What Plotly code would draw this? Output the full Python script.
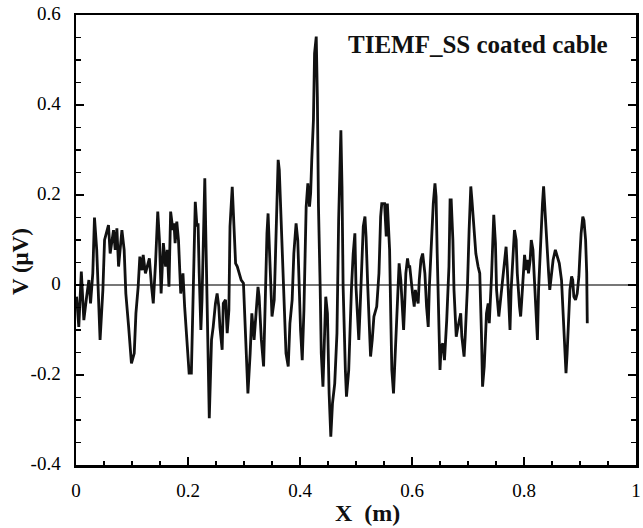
import plotly.graph_objects as go

# Signal trace (X in m, V in microvolts)
x_a = [0.001, 0.005, 0.0095, 0.014, 0.019, 0.023, 0.026, 0.030, 0.033, 0.037,
       0.043, 0.048, 0.051, 0.055, 0.058, 0.061, 0.067, 0.070, 0.073, 0.076,
       0.080, 0.082, 0.086, 0.089, 0.094, 0.099, 0.104, 0.107, 0.111, 0.114,
       0.118, 0.120, 0.124, 0.127, 0.131, 0.135, 0.138, 0.142, 0.146, 0.149,
       0.152, 0.156, 0.160, 0.163, 0.166, 0.169, 0.173, 0.175, 0.177]
v_a = [-0.026, -0.093, 0.030, -0.078, -0.026, 0.011, -0.041, 0.026, 0.150, 0.078,
       -0.122, -0.011, 0.100, 0.122, 0.133, 0.070, 0.122, 0.078, 0.126, 0.041,
       0.100, 0.122, 0.078, -0.019, -0.093, -0.174, -0.152, -0.063, -0.004, 0.063,
       0.033, 0.067, 0.026, 0.041, 0.059, -0.004, -0.041, 0.048, 0.163, 0.100,
       -0.019, 0.093, 0.041, 0.078, -0.004, 0.163, 0.122, 0.137, 0.093]

x_b = [0.180, 0.183, 0.187, 0.191, 0.194, 0.199, 0.202, 0.206, 0.210, 0.213,
       0.216, 0.218, 0.220, 0.223, 0.225, 0.227, 0.230, 0.232, 0.236, 0.238,
       0.242, 0.245, 0.249, 0.252, 0.255, 0.257, 0.261, 0.263, 0.267, 0.270,
       0.273, 0.275, 0.279, 0.282, 0.285, 0.288, 0.292, 0.295, 0.299, 0.302,
       0.305, 0.307, 0.311, 0.314, 0.318, 0.321, 0.325, 0.327, 0.331, 0.335,
       0.338, 0.341, 0.343, 0.345, 0.348, 0.350, 0.354, 0.357, 0.361, 0.363]
v_b = [0.141, 0.100, -0.019, 0.026, -0.048, -0.137, -0.196, -0.196, 0.011, 0.185,
       0.130, 0.137, 0.026, -0.100, -0.033, 0.078, 0.237, 0.100, -0.122, -0.296,
       -0.122, -0.093, -0.041, -0.019, -0.048, -0.093, -0.144, -0.041, -0.033, -0.107,
       -0.056, 0.130, 0.218, 0.130, 0.048, 0.041, 0.026, 0.011, 0.004, -0.093,
       -0.181, -0.241, -0.152, -0.063, -0.122, -0.063, -0.004, -0.026, -0.122, -0.181,
       -0.026, 0.115, 0.159, 0.100, -0.004, -0.070, -0.033, 0.100, 0.278, 0.256]

x_c = [0.368, 0.371, 0.375, 0.379, 0.382, 0.386, 0.389, 0.393, 0.396, 0.399,
       0.401, 0.404, 0.407, 0.411, 0.414, 0.417, 0.419, 0.421, 0.424, 0.426,
       0.429, 0.431, 0.433, 0.436, 0.438, 0.441, 0.443, 0.446, 0.449, 0.452,
       0.455, 0.458, 0.462, 0.466, 0.469, 0.473, 0.475, 0.477, 0.481, 0.483,
       0.487, 0.489, 0.492, 0.495, 0.498, 0.500, 0.502, 0.505, 0.507, 0.510,
       0.513, 0.516, 0.518, 0.521, 0.524, 0.526, 0.529, 0.532, 0.537, 0.541,
       0.544, 0.546]
v_c = [0.070, -0.048, -0.152, -0.181, -0.085, -0.033, 0.070, 0.137, 0.100, -0.019,
       -0.100, -0.167, -0.056, 0.174, 0.226, 0.174, 0.204, 0.278, 0.367, 0.515,
       0.552, 0.418, 0.174, -0.004, -0.152, -0.226, -0.152, -0.026, -0.063, -0.241,
       -0.337, -0.263, -0.219, -0.107, 0.144, 0.344, 0.219, -0.004, -0.189, -0.248,
       -0.189, -0.107, -0.004, 0.070, 0.115, -0.004, -0.063, -0.122, -0.063, 0.048,
       0.130, 0.152, 0.107, -0.004, -0.078, -0.159, -0.122, -0.070, -0.048, 0.026,
       0.152, 0.181]

x_d = [0.551, 0.554, 0.556, 0.560, 0.562, 0.564, 0.567, 0.569, 0.571, 0.574,
       0.577, 0.580, 0.582, 0.585, 0.587, 0.589, 0.592, 0.594, 0.596, 0.599,
       0.601, 0.604, 0.606, 0.608, 0.611, 0.613, 0.616, 0.619, 0.623, 0.626,
       0.629, 0.631, 0.635, 0.638, 0.641, 0.643, 0.645, 0.648, 0.650, 0.652,
       0.655, 0.658, 0.662, 0.666, 0.668, 0.670, 0.673, 0.675, 0.679, 0.681,
       0.685, 0.687, 0.689, 0.693, 0.695, 0.699, 0.702, 0.705, 0.707, 0.710,
       0.712, 0.714, 0.718, 0.721, 0.724, 0.726, 0.729, 0.731, 0.733]
v_d = [0.181, 0.108, 0.181, 0.078, -0.063, -0.189, -0.241, -0.181, -0.093, -0.026,
       0.048, 0.011, -0.048, -0.100, -0.041, 0.026, 0.059, 0.041, 0.041, -0.004,
       -0.019, -0.048, -0.011, -0.026, -0.041, 0.011, 0.056, 0.070, 0.026, -0.048,
       -0.093, -0.004, 0.122, 0.181, 0.226, 0.196, 0.070, -0.100, -0.189, -0.137,
       -0.130, -0.167, -0.078, 0.041, 0.189, 0.189, 0.100, -0.011, -0.115, -0.100,
       -0.070, -0.063, -0.115, -0.159, -0.115, -0.004, 0.122, 0.219, 0.189, 0.137,
       0.093, 0.070, 0.041, 0.026, -0.107, -0.226, -0.181, -0.093, -0.063]

x_e = [0.736, 0.738, 0.742, 0.744, 0.746, 0.749, 0.751, 0.755, 0.758, 0.762,
       0.766, 0.768, 0.770, 0.773, 0.775, 0.777, 0.781, 0.783, 0.786, 0.788,
       0.792, 0.794, 0.796, 0.799, 0.801, 0.804, 0.806, 0.808, 0.811, 0.813,
       0.816, 0.818, 0.820, 0.824, 0.826, 0.829, 0.831, 0.833, 0.835, 0.837,
       0.839, 0.842, 0.844, 0.846, 0.849, 0.852, 0.856, 0.860, 0.863, 0.867,
       0.870, 0.873, 0.875, 0.877, 0.880, 0.882, 0.885, 0.887, 0.889, 0.892,
       0.895, 0.898, 0.900, 0.902, 0.905, 0.907, 0.910, 0.912, 0.913]
v_e = [-0.041, -0.085, 0.019, 0.100, 0.156, 0.093, -0.011, -0.070, -0.033, 0.011,
       0.070, 0.085, 0.041, -0.048, -0.100, -0.011, 0.100, 0.122, 0.100, 0.026,
       -0.048, -0.070, -0.033, 0.026, 0.067, 0.033, 0.056, 0.026, 0.056, 0.100,
       0.078, 0.026, -0.033, -0.122, -0.011, 0.078, 0.159, 0.181, 0.219, 0.174,
       0.115, 0.063, 0.026, -0.011, 0.019, 0.056, 0.078, 0.063, 0.048, 0.011,
       -0.063, -0.152, -0.196, -0.152, -0.078, -0.011, 0.019, 0.011, -0.026, -0.033,
       -0.019, 0.019, 0.070, 0.115, 0.152, 0.144, 0.100, 0.026, -0.085]

x_ticks = [0, 0.2, 0.4, 0.6, 0.8, 1]
x_tick_labels = ["0", "0.2", "0.4", "0.6", "0.8", "1"]
y_ticks = [-0.4, -0.2, 0, 0.2, 0.4, 0.6]
y_tick_labels = ["-0.4", "-0.2", "0", "0.2", "0.4", "0.6"]

label_text = "TIEMF_SS coated cable"
x_title = "X  (m)"
y_title = "V (\u03bcV)"

x_all = x_a + x_b + x_c + x_d + x_e
v_all = v_a + v_b + v_c + v_d + v_e

SERIF = "Liberation Serif"

fig = go.Figure()
fig.add_trace(go.Scatter(
    x=x_all, y=v_all, mode="lines",
    line=dict(color="#111111", width=2.8, shape="linear"),
    showlegend=False, hoverinfo="skip",
))

axis_common = dict(
    showgrid=False, automargin=False, layer="above traces",
    showline=True, linecolor="black", linewidth=2.5,
    ticks="inside", tickcolor="black", tickwidth=1.2, ticklen=8,
    tickfont=dict(family=SERIF, size=19, color="black"),
    ticklabeloverflow="allow",
)

fig.update_xaxes(
    range=[0, 1], tickvals=x_ticks, ticktext=x_tick_labels,
    mirror=True, zeroline=False,
    minor=dict(dtick=0.05, tick0=0, ticks="inside", ticklen=4, tickcolor="black", tickwidth=1.2),
    ticklabelstandoff=7,
    **axis_common,
)
fig.update_yaxes(
    range=[-0.4, 0.6], tickvals=y_ticks, ticktext=y_tick_labels,
    mirror="ticks", zeroline=True, zerolinecolor="#777777", zerolinewidth=1.5,
    minor=dict(dtick=0.05, tick0=0, ticks="inside", ticklen=5, tickcolor="black", tickwidth=1.2),
    ticklabelstandoff=9, ticklabelshift=-2,
    **axis_common,
)

fig.add_annotation(
    x=0.484, y=0.535, xref="x", yref="y", text="<b>%s</b>" % label_text,
    showarrow=False, xanchor="left", yanchor="middle", borderpad=0,
    font=dict(family=SERIF, size=25, color="#111111"),
)
fig.add_annotation(
    x=0.521, y=-0.107, xref="x", yref="paper", text="<b>%s</b>" % x_title,
    showarrow=False, xanchor="center", yanchor="middle",
    font=dict(family=SERIF, size=24, color="#111111"),
)
fig.add_annotation(
    x=-0.1, y=0.451, xref="paper", yref="paper", text="<b>%s</b>" % y_title,
    showarrow=False, xanchor="center", yanchor="middle", textangle=-90,
    font=dict(family=SERIF, size=23, color="#111111"),
)

fig.update_layout(
    template="none",
    width=643, height=528,
    margin=dict(l=76, r=7, t=15, b=63),
    paper_bgcolor="white", plot_bgcolor="white",
)

# Remove the browser's default 8 px body margin so the figure fills the window.
fig.write_html(
    "out.html",
    config={"displayModeBar": False, "staticPlot": True},
    post_script="document.body.style.margin='0px';",
)
